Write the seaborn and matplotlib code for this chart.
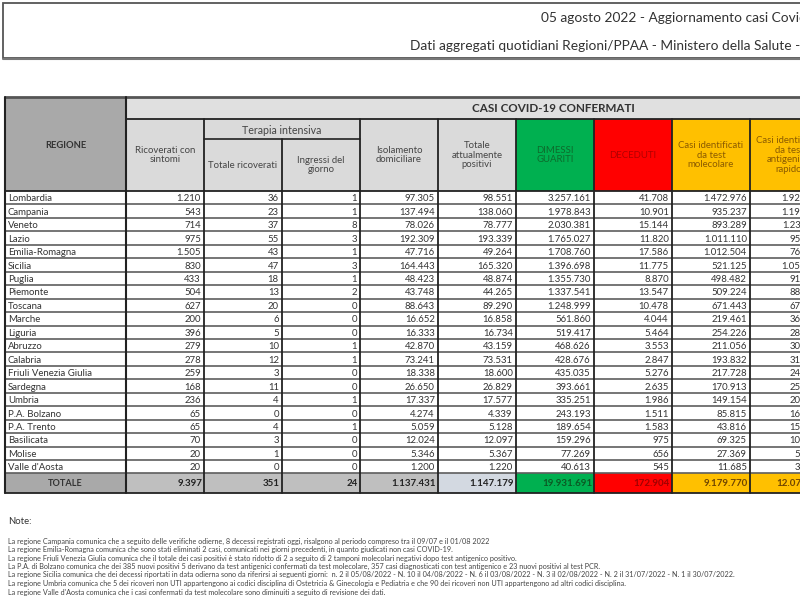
import matplotlib
matplotlib.use("Agg")
import numpy as np
import matplotlib.pyplot as plt
from matplotlib.patches import Rectangle
from matplotlib.colors import ListedColormap
import seaborn as sns

regioni = ["Lombardia", "Campania", "Veneto", "Lazio", "Emilia-Romagna", "Sicilia",
           "Puglia", "Piemonte", "Toscana", "Marche", "Liguria", "Abruzzo", "Calabria",
           "Friuli Venezia Giulia", "Sardegna", "Umbria", "P.A. Bolzano", "P.A. Trento",
           "Basilicata", "Molise", "Valle d'Aosta"]
ricoverati = [1210, 543, 714, 975, 1505, 830, 433, 504, 627, 200, 396, 279, 278,
              259, 168, 236, 65, 65, 70, 20, 20]
terapia_tot = [36, 23, 37, 55, 43, 47, 18, 13, 20, 6, 5, 10, 12, 3, 11, 4, 0, 4, 3, 1, 0]
terapia_ingressi = [1, 1, 8, 3, 1, 3, 1, 2, 0, 0, 0, 1, 1, 0, 0, 1, 0, 1, 0, 0, 0]
isolamento = [97305, 137494, 78026, 192309, 47716, 164443, 48423, 43748, 88643, 16652,
              16333, 42870, 73241, 18338, 26650, 17337, 4274, 5059, 12024, 5346, 1200]
totale_positivi = [98551, 138060, 78777, 193339, 49264, 165320, 48874, 44265, 89290,
                   16858, 16734, 43159, 73531, 18600, 26829, 17577, 4339, 5128, 12097,
                   5367, 1220]
dimessi = [3257161, 1978843, 2030381, 1765027, 1708760, 1396698, 1355730, 1337541,
           1248999, 561860, 519417, 468626, 428676, 435035, 393661, 335251, 243193,
           189654, 159296, 77269, 40613]
deceduti = [41708, 10901, 15144, 11820, 17586, 11775, 8870, 13547, 10478, 4044, 5464,
            3553, 2847, 5276, 2635, 1986, 1511, 1583, 975, 656, 545]
casi_molecolare = [1472976, 935237, 893289, 1011110, 1012504, 521125, 498482, 509224,
                   671443, 219461, 254226, 211056, 193832, 217728, 170913, 149154,
                   85815, 43816, 69325, 27369, 11685]
casi_antigenico = [1924444, 1192567, 1231013, 959076, 763106, 1052668, 914992, 886129,
                   677324, 363301, 287389, 304282, 311222, 241183, 252212, 205660,
                   163228, 152549, 103043, 55923, 30693]
totali = [9397, 351, 24, 1137431, 1147179, 19931691, 172904, 9179770, 12072004]

header_labels = ["Ricoverati con\nsintomi", "Totale ricoverati", "Ingressi del\ngiorno",
                 "Isolamento\ndomiciliare", "Totale\nattualmente\npositivi",
                 "DIMESSI\nGUARITI", "DECEDUTI", "Casi identificati\nda test\nmolecolare",
                 "Casi identificati\nda test\nantigenico\nrapido"]

titolo_1 = "05 agosto 2022 - Aggiornamento casi Covid-19"
titolo_2 = "Dati aggregati quotidiani Regioni/PPAA - Ministero della Salute - Istituto Superiore di Sanità"

note = [
    "La regione Campania comunica che a seguito delle verifiche odierne, 8 decessi registrati oggi, risalgono al periodo compreso tra il 09/07 e il 01/08 2022",
    "La regione Emilia-Romagna comunica che sono stati eliminati 2 casi, comunicati nei giorni precedenti, in quanto giudicati non casi COVID-19.",
    "La regione Friuli Venezia Giulia comunica che il totale dei casi positivi è stato ridotto di 2 a seguito di 2 tamponi molecolari negativi dopo test antigenico positivo.",
    "La P.A. di Bolzano comunica che dei 385 nuovi positivi 5 derivano da test antigenici confermati da test molecolare, 357 casi diagnosticati con test antigenico e 23 nuovi positivi al test PCR.",
    "La regione Sicilia comunica che dei decessi riportati in data odierna sono da riferirsi ai seguenti giorni:  n. 2 il 05/08/2022 - N. 10 il 04/08/2022 - N. 6 il 03/08/2022 - N. 3 il 02/08/2022 - N. 2 il 31/07/2022 - N. 1 il 30/07/2022.",
    "La regione Umbria comunica che 5 dei ricoveri non UTI appartengono ai codici disciplina di Ostetricia & Ginecologia e Pediatria e che 90 dei ricoveri non UTI appartengono ad altri codici disciplina.",
    "La regione Valle d'Aosta comunica che i casi confermati da test molecolare sono diminuiti a seguito di revisione dei dati.",
]


def fmt(v):
    return f"{v:,}".replace(",", ".")


sns.set_theme(style="white")
plt.rcParams['font.family'] = ['Lato', 'DejaVu Sans']

# layout in pixels
x0, x_reg, cw = 5, 126, 78
ncol = 9
col_x = [x_reg + i * cw for i in range(ncol + 1)]
x_end = col_x[-1]
top, band, ti_split, body_top = 97, 119, 139, 191
row_h = 13.45
nrow = len(regioni)
body_bot = body_top + nrow * row_h
tot_bot = 493

head_fill = ["#dadada"] * 5 + ["#00b050", "#ff0000", "#ffc000", "#ffc000"]
head_txt = ["#454545"] * 5 + ["#0d6b2c", "#b00000", "#8a5a00", "#8a5a00"]
tot_fill = ["#bfbfbf"] * 4 + ["#d3d9e1", "#00b050", "#ff0000", "#ffc000", "#ffc000"]
tot_txt = ["#222222"] * 5 + ["#0b5a24", "#a00000", "#6e4400", "#6e4400"]

fig = plt.figure(figsize=(8, 6), dpi=100)
ax = fig.add_axes([0, 0, 1, 1])
ax.set_xlim(0, 800)
ax.set_ylim(600, 0)
ax.axis("off")
ax.set_zorder(3)

# title box
ax.add_patch(Rectangle((3, 3), 810, 55, facecolor="white", edgecolor="#555555", lw=1.3))
ax.plot([3, 813], [58.5, 58.5], color="#777777", lw=1.5)
ax.text(541, 18, titolo_1, fontsize=9.9, color="#333333", va="center", clip_on=True)
ax.text(410, 46, titolo_2, fontsize=9.9, color="#333333", va="center", clip_on=True)

# header cells
ax.add_patch(Rectangle((x0, top), x_reg - x0, body_top - top, facecolor="#a9a9a9", lw=0))
ax.text((x0 + x_reg) / 2, 145, "REGIONE", fontsize=6.8, fontweight="bold",
        color="#333333", ha="center", va="center")
ax.add_patch(Rectangle((x_reg, top), x_end - x_reg, band - top, facecolor="#e0e0e0", lw=0))
ax.text(553, 109, "CASI COVID-19 CONFERMATI", fontsize=8.4, fontweight="bold",
        color="#333333", ha="center", va="center")
for j in range(ncol):
    ax.add_patch(Rectangle((col_x[j], band), cw, body_top - band,
                           facecolor=head_fill[j], lw=0))
ax.text((col_x[1] + col_x[3]) / 2, 130, "Terapia intensiva", fontsize=7.7,
        color="#454545", ha="center", va="center")
for j, lab in enumerate(header_labels):
    cy = 155
    if j in (1, 2):
        cy = 165
    ax.text((col_x[j] + col_x[j + 1]) / 2, cy, lab, fontsize=6.9, color=head_txt[j],
            ha="center", va="center", linespacing=1.1, clip_on=True)

# body values: seaborn heatmap grid of white cells
vals = np.array([ricoverati, terapia_tot, terapia_ingressi, isolamento, totale_positivi,
                 dimessi, deceduti, casi_molecolare, casi_antigenico]).T
axh = fig.add_axes([x_reg / 800, 1 - body_bot / 600, (x_end - x_reg) / 800,
                    (body_bot - body_top) / 600])
sns.heatmap(np.zeros(vals.shape), ax=axh, cmap=ListedColormap(["white"]), cbar=False,
            xticklabels=False, yticklabels=False)
for i in range(nrow):
    for j in range(ncol):
        axh.text(j + 0.96, i + 0.58, fmt(vals[i, j]), ha="right", va="center",
                 fontsize=6.9, color="#333333")

for i, r in enumerate(regioni):
    ax.text(x0 + 3, body_top + (i + 0.58) * row_h, r, fontsize=6.9, color="#333333",
            va="center")

# totals row
ax.add_patch(Rectangle((x0, body_bot), x_reg - x0, tot_bot - body_bot,
                       facecolor="#a9a9a9", lw=0))
ax.text((x0 + x_reg) / 2, (body_bot + tot_bot) / 2, "TOTALE", fontsize=6.6,
        fontweight="bold", color="#333333", ha="center", va="center")
for j in range(ncol):
    ax.add_patch(Rectangle((col_x[j], body_bot), cw, tot_bot - body_bot,
                           facecolor=tot_fill[j], lw=0))
    ax.text(col_x[j + 1] - 2, (body_bot + tot_bot) / 2, fmt(totali[j]), fontsize=7,
            fontweight="bold", color=tot_txt[j], ha="right", va="center", clip_on=True)

# grid lines
for i in range(1, nrow + 1):
    y = body_top + i * row_h
    ax.plot([x0, x_end], [y, y], color="#5e5e5e", lw=1.2)
ax.plot([x0, x_end], [body_top, body_top], color="#222222", lw=1.3)
ax.plot([x0, x_end], [tot_bot, tot_bot], color="#222222", lw=1.3)
ax.plot([x0, x_end], [top, top], color="#555555", lw=2)
ax.plot([x_reg, x_end], [band, band], color="#222222", lw=1.3)
ax.plot([col_x[1], col_x[3]], [ti_split, ti_split], color="#222222", lw=1.2)
ax.plot([x0, x0], [top, tot_bot], color="#222222", lw=1.5)
ax.plot([x_reg, x_reg], [top, tot_bot], color="#222222", lw=1.5)
for j in range(1, ncol + 1):
    y_start = ti_split if j == 2 else band
    ax.plot([col_x[j], col_x[j]], [y_start, tot_bot], color="#222222", lw=1.3)

# notes
ax.text(8, 521, "Note:", fontsize=6.8, color="#333333", va="center")
for k, line in enumerate(note):
    ax.text(8, 541 + k * 8.5, line, fontsize=5.2, color="#444444", va="center",
            clip_on=True)

fig.savefig("out.png", dpi=100)
